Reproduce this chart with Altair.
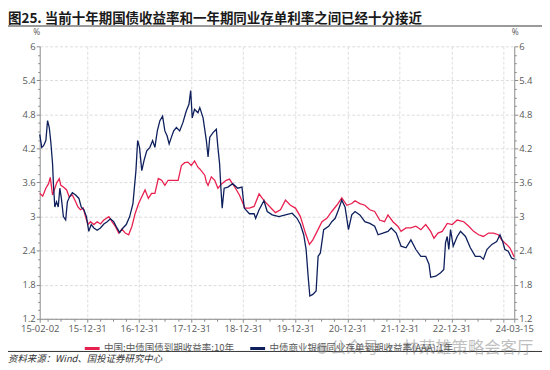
import altair as alt
import pandas as pd

S1 = "中国:中债国债到期收益率:10年"
S2 = "中债商业银行同业存单到期收益率(AAA):1年"
RED = "#e8204f"
NAVY = "#0d1f5c"

red_dates = ["2015-02-02","2015-02-23","2015-03-17","2015-04-05","2015-04-17","2015-05-03","2015-05-15","2015-06-02","2015-06-19","2015-06-30","2015-07-18","2015-08-10","2015-08-27","2015-09-19","2015-10-12","2015-10-28","2015-11-15","2015-12-04","2015-12-20","2016-01-06","2016-01-24","2016-02-17","2016-03-11","2016-04-03","2016-04-27","2016-06-01","2016-06-23","2016-07-16","2016-08-09","2016-09-01","2016-09-24","2016-10-18","2016-11-10","2016-12-03","2016-12-27","2017-01-18","2017-02-10","2017-03-05","2017-03-28","2017-04-20","2017-05-14","2017-06-06","2017-06-29","2017-07-22","2017-08-26","2017-09-30","2017-10-23","2017-11-15","2017-12-08","2017-12-31","2018-01-23","2018-02-16","2018-03-01","2018-04-05","2018-04-16","2018-04-28","2018-05-21","2018-06-14","2018-07-06","2018-08-03","2018-09-02","2018-09-25","2018-10-30","2018-12-04","2018-12-21","2019-01-11","2019-02-12","2019-03-17","2019-04-21","2019-05-14","2019-06-06","2019-07-10","2019-08-14","2019-09-18","2019-10-23","2019-11-27","2020-01-01","2020-02-05","2020-03-11","2020-04-08","2020-05-02","2020-06-01","2020-07-05","2020-08-08","2020-09-12","2020-10-17","2020-11-21","2020-12-27","2021-01-30","2021-02-22","2021-03-28","2021-05-02","2021-06-06","2021-07-10","2021-08-14","2021-09-17","2021-10-11","2021-11-15","2021-12-19","2022-01-11","2022-02-15","2022-03-21","2022-04-25","2022-05-30","2022-07-03","2022-08-07","2022-08-30","2022-09-27","2022-10-27","2022-12-01","2023-01-05","2023-02-09","2023-03-27","2023-05-01","2023-06-04","2023-07-09","2023-08-12","2023-09-16","2023-10-21","2023-11-24","2023-12-17","2024-01-21","2024-02-13","2024-03-15"]
red_values = [3.41,3.36,3.50,3.58,3.69,3.38,3.47,3.60,3.67,3.55,3.52,3.47,3.35,3.38,3.26,3.17,3.12,3.15,3.00,2.86,2.91,2.86,2.91,2.87,2.94,3.00,2.91,2.83,2.71,2.78,2.71,2.68,2.83,3.06,3.23,3.35,3.47,3.32,3.41,3.41,3.67,3.64,3.55,3.64,3.64,3.64,3.90,3.95,3.96,3.90,3.98,3.87,3.84,3.73,3.61,3.55,3.70,3.64,3.50,3.58,3.64,3.66,3.53,3.38,3.28,3.15,3.15,3.18,3.40,3.32,3.25,3.16,3.07,3.12,3.29,3.20,3.15,3.00,2.71,2.51,2.59,2.74,2.91,2.97,3.09,3.20,3.33,3.20,3.23,3.28,3.23,3.20,3.12,3.09,2.94,2.91,3.03,2.91,2.83,2.74,2.80,2.80,2.83,2.77,2.86,2.74,2.62,2.71,2.74,2.88,2.86,2.94,2.91,2.83,2.74,2.68,2.65,2.71,2.71,2.68,2.59,2.51,2.45,2.29]

navy_dates = ["2015-02-02","2015-02-16","2015-03-01","2015-03-17","2015-03-29","2015-04-10","2015-04-21","2015-05-03","2015-05-10","2015-05-19","2015-05-31","2015-06-12","2015-06-23","2015-07-04","2015-07-18","2015-08-03","2015-08-15","2015-08-31","2015-09-19","2015-10-12","2015-11-04","2015-11-20","2015-12-09","2015-12-27","2016-01-12","2016-01-29","2016-02-17","2016-03-11","2016-04-03","2016-04-27","2016-05-20","2016-06-12","2016-07-05","2016-07-28","2016-08-16","2016-09-08","2016-10-01","2016-10-25","2016-11-17","2016-12-08","2016-12-20","2017-01-02","2017-01-18","2017-02-03","2017-02-22","2017-03-16","2017-04-04","2017-04-20","2017-05-07","2017-05-25","2017-06-13","2017-06-29","2017-07-15","2017-07-29","2017-08-14","2017-08-30","2017-09-18","2017-10-11","2017-11-03","2017-11-26","2017-12-15","2017-12-27","2018-01-07","2018-01-23","2018-02-16","2018-03-01","2018-03-24","2018-04-16","2018-04-28","2018-05-10","2018-06-02","2018-06-25","2018-07-06","2018-07-18","2018-07-27","2018-08-05","2018-08-19","2018-09-14","2018-10-18","2018-11-22","2018-12-22","2019-01-07","2019-02-12","2019-03-17","2019-03-28","2019-04-21","2019-05-25","2019-06-17","2019-07-22","2019-09-07","2019-10-23","2019-12-09","2020-01-12","2020-02-05","2020-02-28","2020-03-16","2020-03-30","2020-04-11","2020-05-02","2020-05-25","2020-06-08","2020-06-24","2020-07-17","2020-08-21","2020-09-12","2020-10-06","2020-10-29","2020-11-21","2020-12-14","2021-01-07","2021-01-30","2021-02-22","2021-03-28","2021-05-02","2021-06-06","2021-07-10","2021-08-03","2021-09-06","2021-10-11","2021-11-03","2021-12-08","2022-01-11","2022-02-15","2022-03-21","2022-04-25","2022-05-30","2022-07-03","2022-07-26","2022-08-07","2022-09-11","2022-10-16","2022-11-07","2022-11-19","2022-12-01","2022-12-12","2022-12-24","2023-01-12","2023-02-09","2023-03-04","2023-04-08","2023-05-12","2023-06-16","2023-07-20","2023-08-12","2023-09-05","2023-10-10","2023-11-13","2023-12-06","2023-12-25","2024-01-09","2024-02-02","2024-02-25","2024-03-15"]
navy_values = [4.45,4.22,4.25,4.34,4.69,4.57,4.31,3.93,3.52,3.17,3.26,3.17,3.50,3.32,3.00,2.94,3.26,3.35,3.42,3.38,3.32,3.17,3.12,3.00,2.74,2.86,2.80,2.76,2.80,2.87,2.91,2.96,2.91,2.80,2.72,2.80,2.86,3.00,3.23,3.81,4.34,4.22,3.81,3.99,4.16,4.22,4.34,4.22,4.51,4.69,4.77,4.51,4.42,4.28,4.40,4.51,4.57,4.51,4.66,4.86,4.98,5.22,4.74,4.89,4.83,4.92,4.74,4.34,4.05,4.40,4.48,4.54,4.22,3.93,3.50,3.15,3.50,3.52,3.58,3.50,3.52,3.15,3.05,3.05,2.97,3.12,3.28,3.09,3.03,3.00,3.03,3.06,2.97,2.86,2.68,2.42,1.95,1.60,1.63,1.69,2.30,2.36,2.77,2.83,2.91,2.97,3.12,3.29,3.17,2.77,3.03,3.09,3.03,2.91,2.88,2.83,2.68,2.71,2.74,2.80,2.71,2.48,2.45,2.59,2.42,2.30,2.30,2.16,1.93,1.95,2.01,2.07,2.54,2.65,2.42,2.77,2.48,2.65,2.74,2.65,2.45,2.30,2.30,2.25,2.42,2.51,2.56,2.68,2.56,2.42,2.39,2.27,2.25]

TITLE = "图25. 当前十年期国债收益率和一年期同业存单利率之间已经十分接近"
SOURCE = "资料来源：Wind、国投证券研究中心"
WATERMARK = "公众号 · 林荣雄策略会客厅"

df = pd.concat([
    pd.DataFrame({"date": pd.to_datetime(red_dates), "value": red_values, "series": S1}),
    pd.DataFrame({"date": pd.to_datetime(navy_dates), "value": navy_values, "series": S2}),
], ignore_index=True)

# axis ticks (major + minor)
y_ticks = [round(1.2 + 0.15 * i, 2) for i in range(33)]
Y_MAJOR = "abs(datum.value / 0.6 - round(datum.value / 0.6)) < 0.01"

x_ticks = [alt.DateTime(year=2015, month=2, date=2)]
for yr in range(2015, 2024):
    for m, d in [(3, 31), (6, 30), (9, 30), (12, 31)]:
        x_ticks.append(alt.DateTime(year=yr, month=m, date=d))
x_ticks.append(alt.DateTime(year=2024, month=3, date=15))
X_MAJOR = "(month(datum.value) == 11 || date(datum.value) == 2 || date(datum.value) == 15)"
X_LABEL = ("((month(datum.value) == 11 && year(datum.value) != 2023) || date(datum.value) == 2 || "
           "date(datum.value) == 15) ? timeFormat(datum.value, '%y-%m-%d') : ''")

GRAY = "#8a8a8a"
LABEL = "#595959"
TICKFONT = "Open Sans"
CJK = "Noto Sans CJK SC"

x_axis = alt.Axis(
    values=x_ticks, tickCount=500, labelExpr=X_LABEL, title=None,
    tickSize={"condition": {"test": X_MAJOR, "value": 3.5}, "value": 2.5},
    grid=True,
    gridOpacity={"condition": {"test": "month(datum.value) == 11", "value": 1}, "value": 0},
    gridDash=[3, 2], gridColor="#d4d4d4", gridWidth=0.8,
    domainColor=GRAY, tickColor=GRAY, labelColor=LABEL,
    labelFont=TICKFONT, labelFontSize=9.5, labelPadding=1,
    labelFlush=False, labelOverlap=False, labelBound=False,
)

def y_axis(orient, grid):
    return alt.Axis(
        orient=orient, values=y_ticks, tickCount=500, title=None,
        labelExpr=f"({Y_MAJOR}) ? format(datum.value, '.1~f') : ''",
        tickSize={"condition": {"test": Y_MAJOR, "value": 3.5}, "value": 2},
        grid=grid,
        gridOpacity={"condition": {"test": Y_MAJOR, "value": 1}, "value": 0},
        gridDash=[3, 2], gridColor="#d4d4d4", gridWidth=0.8,
        domainColor=GRAY, tickColor=GRAY, labelColor=LABEL,
        labelFont=TICKFONT, labelFontSize=9.5, labelPadding=1,
        labelOverlap=False, labelFlush=False,
    )

x_enc = alt.X("date:T", axis=x_axis,
              scale=alt.Scale(domain=[alt.DateTime(year=2015, month=2, date=1, hours=20),
                                      alt.DateTime(year=2024, month=3, date=15, hours=4)]))
y_scale = alt.Scale(domain=[1.2, 6], nice=False, zero=False)

lines = alt.Chart(df).mark_line(strokeWidth=1.3).encode(
    x=x_enc,
    y=alt.Y("value:Q", scale=y_scale, axis=y_axis("left", True)),
    color=alt.Color(
        "series:N",
        scale=alt.Scale(domain=[S1, S2], range=[RED, NAVY]),
        legend=alt.Legend(
            title=None, orient="none", legendX=44, legendY=296,
            direction="horizontal", symbolType="stroke", symbolStrokeWidth=3,
            symbolSize=225, labelFont=CJK, labelFontSize=9.6, labelColor=LABEL,
            columnPadding=9, labelLimit=400, labelOffset=3,
        ),
    ),
)

right = alt.Chart(df).mark_line(strokeOpacity=0).encode(
    x="date:T",
    y=alt.Y("value:Q", axis=y_axis("right", False)),
)

one = pd.DataFrame({"k": [0]})

def text_layer(txt, x, y, size, color, weight="normal", style="normal", align="left", font=CJK, opacity=1):
    return alt.Chart(one).mark_text(
        text=txt, align=align, baseline="middle", fontSize=size, color=color,
        fontWeight=weight, fontStyle=style, font=font, opacity=opacity,
    ).encode(x=alt.value(x), y=alt.value(y))

title = text_layer(TITLE, -32, -27.5, 13.6, "#1a1a1a", weight="bold")
pct_l = text_layer("%", -3, -14, 8.5, LABEL, align="center", font=TICKFONT)
pct_r = text_layer("%", 480, -14, 8.5, LABEL, align="center", font=TICKFONT)
source = text_layer(SOURCE, -32, 316, 9.5, "#333333", style="italic")
wm = text_layer(WATERMARK, 293, 305, 16.5, "#8c8c8c", opacity=0.55)
wm_dot = alt.Chart(one).mark_circle(size=120, color="#8c8c8c", opacity=0.5).encode(
    x=alt.value(285), y=alt.value(305))

top_line = alt.Chart(one).mark_rule(color="#333333", strokeWidth=1).encode(
    x=alt.value(-32), x2=alt.value(510), y=alt.value(-20.5))
bottom_line = alt.Chart(one).mark_rule(color="#333333", strokeWidth=1).encode(
    x=alt.value(-32), x2=alt.value(510), y=alt.value(308))

chart = alt.layer(
    lines, right, top_line, bottom_line, title, pct_l, pct_r, source, wm_dot, wm
).resolve_axis(y="independent").properties(
    width=479, height=275, autosize="none",
    padding={"left": 32, "top": 37, "right": 28, "bottom": 47},
).configure_view(stroke=None)

chart.save("out.html", embed_options={"renderer": "svg", "actions": False})
